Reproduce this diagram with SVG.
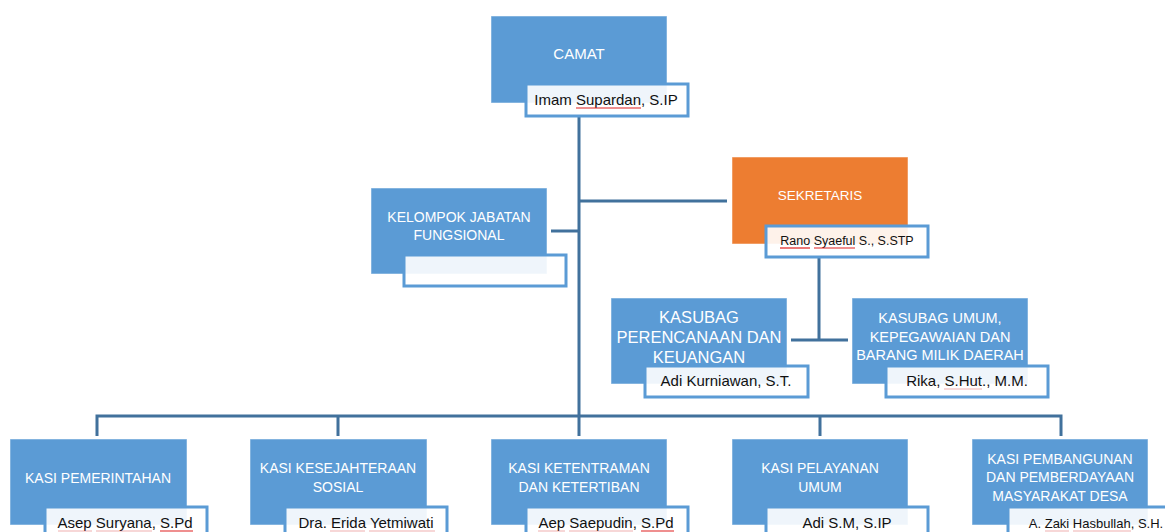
<svg xmlns="http://www.w3.org/2000/svg" width="1165" height="532" viewBox="0 0 1165 532">
<style>
.box{fill:#5B9BD5;stroke:#FFFFFF;stroke-opacity:0.5;stroke-width:1}
.orange{fill:#ED7D31;stroke:#FFFFFF;stroke-opacity:0.5;stroke-width:1}
.nb{fill:#FFFFFF;fill-opacity:0.9;stroke:#5B9BD5;stroke-width:3}
.t{font-family:"Liberation Sans",Arial,sans-serif;fill:#FFFFFF;text-anchor:middle}
.n{font-family:"Liberation Sans",Arial,sans-serif;fill:#111111;text-anchor:middle;font-size:15px}
.c{fill:none;stroke:#41719C;stroke-width:3}
.sp{stroke:#E02020;stroke-width:1.2}
.spf{stroke:#E06060;stroke-width:1;stroke-opacity:0.5}
</style>
<rect width="1165" height="532" fill="#FFFFFF"/>
<g id="connectors">
<path class="c" d="M579 116V436"/>
<path class="c" d="M579 201H727"/>
<path class="c" d="M551 231H579"/>
<path class="c" d="M819 257V340M791 340H848"/>
<path class="c" d="M97 436V416H1061V436M338 416V436M820 416V436"/>
</g>
<g id="camat">
<rect class="box" x="491" y="16" width="176" height="87"/>
<text class="t" x="579" y="59" font-size="15">CAMAT</text>
<rect class="nb" x="526" y="84" width="162" height="32"/>
<text class="n" x="606" y="105">Imam Supardan, S.IP</text>
<line class="sp" x1="576" y1="108" x2="641" y2="108"/>
</g>
<g id="kelompok">
<rect class="box" x="371" y="188" width="176" height="86"/>
<text class="t" x="459" y="222" font-size="14">KELOMPOK JABATAN</text>
<text class="t" x="459" y="240" font-size="14">FUNGSIONAL</text>
<rect class="nb" x="404" y="255" width="162" height="31"/>
</g>
<g id="sekretaris">
<rect class="orange" x="732" y="157" width="176" height="87"/>
<text class="t" x="820" y="200" font-size="13.5">SEKRETARIS</text>
<rect class="nb" x="766" y="226" width="162" height="31"/>
<text class="n" x="847" y="245" font-size="12.5px" style="font-size:12.5px">Rano Syaeful S., S.STP</text>
<line class="sp" x1="780" y1="248" x2="810" y2="248"/>
<line class="sp" x1="814" y1="248" x2="855" y2="248"/>
</g>
<g id="kasubag-perencanaan">
<rect class="box" x="611" y="298" width="176" height="86"/>
<text class="t" x="699" y="323" font-size="16.5">KASUBAG</text>
<text class="t" x="699" y="343" font-size="16.5">PERENCANAAN DAN</text>
<text class="t" x="699" y="363" font-size="16.5">KEUANGAN</text>
<rect class="nb" x="645" y="366" width="163" height="31"/>
<text class="n" x="726" y="386">Adi Kurniawan, S.T.</text>
</g>
<g id="kasubag-umum">
<rect class="box" x="852" y="298" width="176" height="86"/>
<text class="t" x="940" y="323" font-size="14.5">KASUBAG UMUM,</text>
<text class="t" x="940" y="342" font-size="14.5">KEPEGAWAIAN DAN</text>
<text class="t" x="940" y="360" font-size="14.5">BARANG MILIK DAERAH</text>
<rect class="nb" x="886" y="366" width="162" height="31"/>
<text class="n" x="967" y="386">Rika, S.Hut., M.M.</text>
<line class="spf" x1="944" y1="389" x2="982" y2="389"/>
</g>
<g id="kasi-pemerintahan">
<rect class="box" x="10" y="439" width="177" height="86"/>
<text class="t" x="98" y="483" font-size="14">KASI PEMERINTAHAN</text>
<rect class="nb" x="45" y="507" width="162" height="31"/>
<text class="n" x="125" y="528">Asep Suryana, S.Pd</text>
<line class="spf" x1="58" y1="531" x2="92" y2="531"/>
<line class="spf" x1="96" y1="531" x2="152" y2="531"/>
<line class="sp" x1="160" y1="531" x2="193" y2="531"/>
</g>
<g id="kasi-kesejahteraan">
<rect class="box" x="250" y="439" width="177" height="86"/>
<text class="t" x="338" y="473" font-size="14">KASI KESEJAHTERAAN</text>
<text class="t" x="338" y="492" font-size="14">SOSIAL</text>
<rect class="nb" x="285" y="507" width="162" height="31"/>
<text class="n" x="366" y="528">Dra. Erida Yetmiwati</text>
<line class="spf" x1="330" y1="531" x2="365" y2="531"/>
<line class="spf" x1="369" y1="531" x2="435" y2="531"/>
</g>
<g id="kasi-ketentraman">
<rect class="box" x="491" y="439" width="176" height="86"/>
<text class="t" x="579" y="473" font-size="14">KASI KETENTRAMAN</text>
<text class="t" x="579" y="492" font-size="14">DAN KETERTIBAN</text>
<rect class="nb" x="526" y="507" width="162" height="31"/>
<text class="n" x="606" y="528">Aep Saepudin, S.Pd</text>
<line class="spf" x1="538" y1="531" x2="565" y2="531"/>
<line class="spf" x1="569" y1="531" x2="633" y2="531"/>
<line class="sp" x1="641" y1="531" x2="674" y2="531"/>
</g>
<g id="kasi-pelayanan">
<rect class="box" x="732" y="439" width="176" height="86"/>
<text class="t" x="820" y="473" font-size="14">KASI PELAYANAN</text>
<text class="t" x="820" y="492" font-size="14">UMUM</text>
<rect class="nb" x="766" y="507" width="162" height="31"/>
<text class="n" x="847" y="528">Adi S.M, S.IP</text>
</g>
<g id="kasi-pembangunan">
<rect class="box" x="972" y="439" width="176" height="86"/>
<text class="t" x="1060" y="464" font-size="14">KASI PEMBANGUNAN</text>
<text class="t" x="1060" y="482" font-size="14">DAN PEMBERDAYAAN</text>
<text class="t" x="1060" y="501" font-size="14">MASYARAKAT DESA</text>
<rect class="nb" x="1008" y="507" width="162" height="31"/>
<text class="n" x="1096" y="528" style="font-size:13px">A. Zaki Hasbullah, S.H.</text>
<line class="spf" x1="1045" y1="531" x2="1069" y2="531"/>
<line class="spf" x1="1073" y1="531" x2="1131" y2="531"/>
</g>
</svg>
